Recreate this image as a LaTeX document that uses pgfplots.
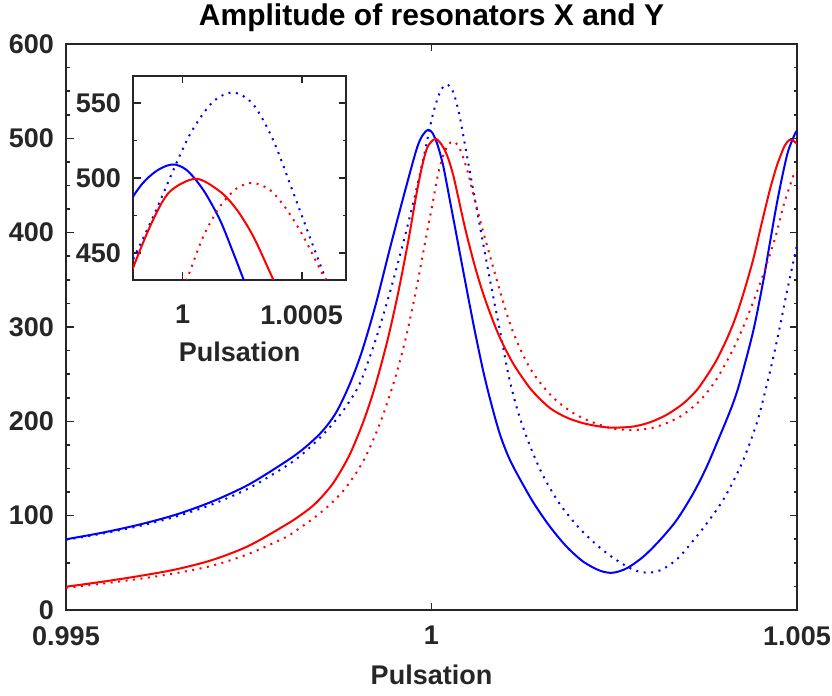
\documentclass[border=0pt]{standalone}
\usepackage{fontspec}
\setmainfont{Liberation Sans}
\usepackage{pgfplots}
\pgfplotsset{compat=1.18}
\usepackage{pgfplotstable}

\definecolor{axgray}{RGB}{38,38,38}
\definecolor{cblue}{RGB}{0,0,255}
\definecolor{cred}{RGB}{255,0,0}

% dw = (pulsation - 1) x 10^4 ; amp = amplitude
% Resonator X, solid
\pgfplotstableread{
dw amp
-50 75
-45 82
-40 90.5
-35 101
-30 115
-25 133
-20 157
-17.5 171
-15 189
-13 210
-11.1 241
-9.48 275
-7.66 323
-5.83 379
-4.01 433
-2.08 487.5
-1.24 503
-0.46 509
0.17 505.3
0.87 492
1.57 472
2.13 450
2.52 434
3.28 403
4.20 365
5.11 328
6.02 292
7.17 250
8.30 215
9.37 186
10.5 163
11.66 145
13.93 114
16.21 88.3
18.50 67
20.77 51.2
23.05 41.7
24.79 39.5
26.70 44.2
28.97 56.5
31.26 74.2
33.54 95.4
35.81 123.7
37.65 151.9
39.47 185
40.38 202
41.29 220
42.20 242
44.02 296
45.39 349
46.31 390
47.22 430
48.13 465
48.81 487
49.73 505
50 508
}\xsolid

% Resonator X, dotted
\pgfplotstableread{
dw amp
-50 74.5
-45 81
-40 89
-35 99
-30 112
-25 129
-20 152
-18 163
-16 177
-14 193
-12.2 210
-10.5 230
-9.48 246
-7.66 286
-5.83 333
-4.01 385
-2.64 427
-2.08 445.6
-1.24 474
-0.18 512.7
0.45 533
1.29 551
2.13 557
2.97 549
3.81 525
4.65 490
5.40 458
6.02 432
6.93 394
7.85 356
8.75 320
9.67 284
10.59 247
11.87 209
13.47 174
15.29 142
17.58 112
20.31 86
23.05 66
25.10 54
27.0 45
28.07 41.5
29.66 39.5
31.26 42
32.8 49
34.23 59
37.18 87
39.92 117
42.43 155
44.49 198
45.85 238
46.76 268
47.67 301
48.50 333
49.30 362
50 387
}\xdotted

% Resonator Y, solid
\pgfplotstableread{
dw amp
-50 24.7
-45 30
-40 36
-35 43
-30 53
-25 68
-20 90
-18 100
-15.87 113
-13.5 134
-11.3 163
-9.5 196
-8.2 225
-7.1 254
-5.83 292
-4.46 340
-3.09 395
-2.08 440
-1.24 472
-0.53 491
0.56 499.5
1.57 491
2.27 479
2.97 461
3.70 436
4.65 403
6.02 362
7.39 328
9.22 291
11.04 263
12.64 244
13.93 231
16.21 214
18.50 204
20.77 198
23.05 194.5
24.87 193.3
27.61 194.5
29.89 199
32.18 207
34.45 219
36.28 233
37.65 248
39.0 265
40.38 287
41.5 308
42.65 335
44.02 372
45.17 410
46.31 446
47.20 470
47.67 480
48.30 492
48.90 498
49.40 498
50 494
}\ysolid

% Resonator Y, dotted
\pgfplotstableread{
dw amp
-50 23.5
-45 28
-40 33
-35 39
-30 47
-25 59.5
-20 77
-18 87
-16 98
-14 111
-12 127
-10 149
-8.56 170
-6.75 204
-4.93 247
-3.56 287
-2.19 336
-0.82 392
0.17 432
0.87 461
1.57 481
2.27 493
2.94 496.7
3.67 492
4.37 479
5.07 461
5.94 434
6.93 405
8.30 367
9.67 330
11.04 297
12.86 265
14.46 245
16.66 225
18.95 211
21.23 201.5
24.42 193
27.15 190.8
29.44 192
31.26 195.5
34.00 205
36.73 222
39.02 245
41.29 277
43.12 309
44.94 346
46.31 377
47.22 400
48.13 428
49.04 450
49.59 462
50 466
}\ydotted

\newcommand{\lblfont}{\fontsize{27bp}{32bp}\selectfont\bfseries}

\pgfplotsset{
  resobase/.style={
    scale only axis,
    axis line style={axgray, line width=1.6bp},
    every tick/.style={axgray, line width=1.6bp},
    tick align=inside,
    major tick length=7.5bp,
    minor tick length=3.5bp,
    tick label style={font=\lblfont, text=axgray},
    label style={font=\lblfont, text=axgray},
    axis background/.style={fill=white},
  },
  solidline/.style={line width=2bp, smooth, line join=round},
  dotline/.style={line width=2bp, smooth, dash pattern=on 2bp off 5.5bp},
}

\begin{document}
\begin{tikzpicture}
% main view
\begin{axis}[resobase, name=main,
  width=731bp, height=566bp,
  xmin=-50, xmax=50, ymin=0, ymax=600,
  xtick={-50,0,50}, xticklabels={0.995,1,1.005},
  ytick={0,100,200,300,400,500,600},
  yticklabels={0,100,200,300,400,500,600},
  minor y tick num=3,
  xticklabel style={anchor=north, inner sep=0pt, yshift=-16bp},
  yticklabel style={anchor=east, inner sep=0pt, xshift=-12bp},
  xlabel={Pulsation},
  xlabel style={at={(axis description cs:0.5,0)}, anchor=north, inner sep=0pt, yshift=-55bp},
  title={Amplitude of resonators X and Y},
  title style={at={(axis description cs:0.5,1)}, anchor=base, inner sep=0pt, yshift=13bp,
    font=\fontsize{30bp}{36bp}\selectfont\bfseries, text=black},
]
\addplot[cblue, solidline] table[x=dw, y=amp] {\xsolid};
\addplot[cblue, dotline] table[x=dw, y=amp] {\xdotted};
\addplot[cred, solidline] table[x=dw, y=amp] {\ysolid};
\addplot[cred, dotline] table[x=dw, y=amp] {\ydotted};
\end{axis}

\coordinate (insetNW) at ([xshift=67bp, yshift=-32bp]main.north west);

% zoom on the resonance peaks
\begin{axis}[resobase,
  at={(insetNW)}, anchor=north west,
  width=213bp, height=204bp,
  xmin=-2.08, xmax=6.86, ymin=432, ymax=568,
  xtick={0,5}, xticklabels={1,1.0005},
  ytick={450,500,550}, yticklabels={450,500,550},
  minor y tick num=1,
  xticklabel style={anchor=north, inner sep=0pt, yshift=-25bp},
  yticklabel style={anchor=east, inner sep=0pt, xshift=-12bp},
  xlabel={Pulsation},
  xlabel style={at={(axis description cs:0.5,0)}, anchor=north, inner sep=0pt, yshift=-62bp},
]
\addplot[cblue, solidline] table[x=dw, y=amp] {\xsolid};
\addplot[cblue, dotline] table[x=dw, y=amp] {\xdotted};
\addplot[cred, solidline] table[x=dw, y=amp] {\ysolid};
\addplot[cred, dotline] table[x=dw, y=amp] {\ydotted};
\end{axis}

\pgfresetboundingbox
\path[use as bounding box] ([xshift=-66bp, yshift=-85bp]main.south west)
  rectangle ([xshift=35bp, yshift=44bp]main.north east);
\end{tikzpicture}
\end{document}
